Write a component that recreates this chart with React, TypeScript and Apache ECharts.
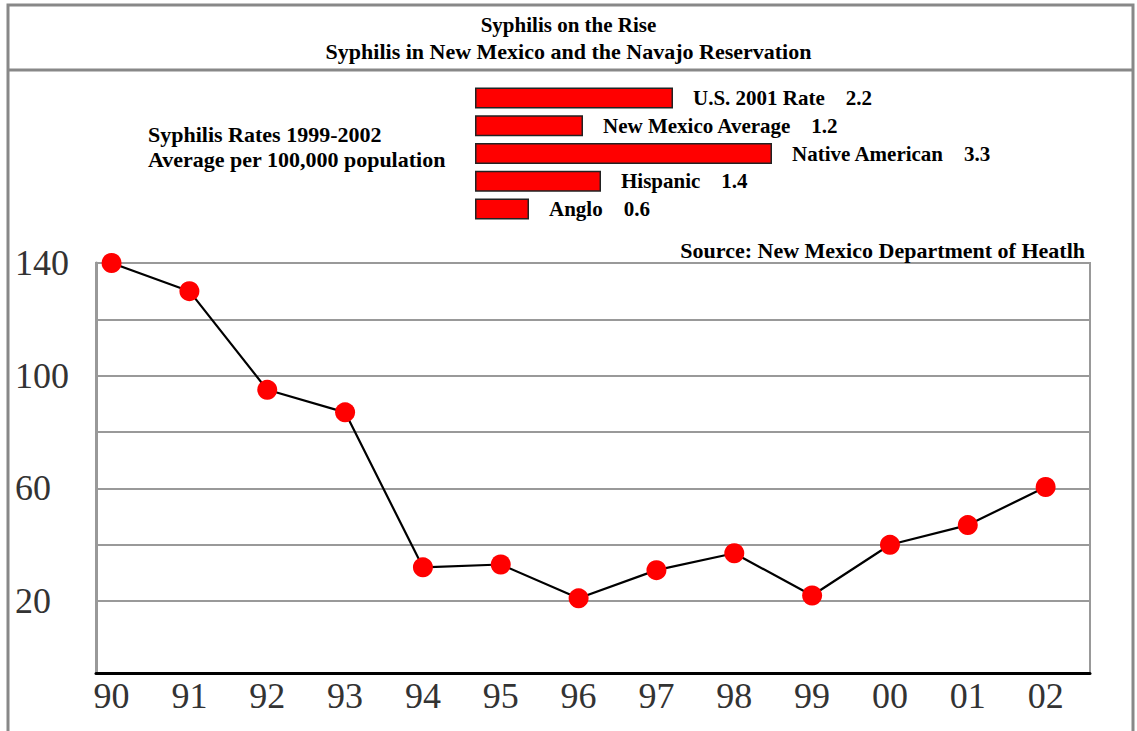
import React, { useEffect, useRef } from "react";
import * as echarts from "echarts";

// ---- data ----
const years = ["90", "91", "92", "93", "94", "95", "96", "97", "98", "99", "00", "01", "02"];
const cases = [140, 130, 95, 87, 32, 33, 21, 31, 37, 22, 40, 47, 60.5];
const yTickLabels = [20, 60, 100, 140];
const gridValues = [20, 40, 60, 80, 100, 120, 140];

const rateGroups = ["U.S. 2001 Rate", "New Mexico Average", "Native American", "Hispanic", "Anglo"];
const rateValues = [2.2, 1.2, 3.3, 1.4, 0.6];

const titleMain = "Syphilis on the Rise";
const titleSub = "Syphilis in New Mexico and the Navajo Reservation";
const ratesNote = "Syphilis Rates 1999-2002\nAverage per 100,000 population";
const sourceNote = "Source: New Mexico Department of Heatlh";

const SERIF = "'Liberation Serif', 'Times New Roman', serif";

export default function App() {
  const ref = useRef<HTMLDivElement>(null);
  useEffect(() => {
    if (!ref.current) return;
    const chart = echarts.init(ref.current, null, { renderer: "svg" });
    const boldText = { fontFamily: SERIF, fontWeight: "bold", color: "#000" };
    chart.setOption({
      animation: false,
      backgroundColor: "#fff",
      title: [
        { text: titleMain, left: "center", top: 9, textStyle: { ...boldText, fontSize: 21 } },
        { text: titleSub, left: "center", top: 35, textStyle: { ...boldText, fontSize: 22 } },
        { text: ratesNote, left: 143, top: 117, textStyle: { ...boldText, fontSize: 22, lineHeight: 25 } },
        { text: sourceNote, right: 47, top: 234, textStyle: { ...boldText, fontSize: 22 } },
      ],
      graphic: [
        { type: "rect", shape: { x: 8, y: 5, width: 1125, height: 740 }, style: { fill: "none", stroke: "#888", lineWidth: 3 }, silent: true },
        { type: "line", shape: { x1: 8, y1: 70, x2: 1133, y2: 70 }, style: { stroke: "#888", lineWidth: 3 }, silent: true },
      ],
      grid: [
        { left: 96, right: 47, top: 263, bottom: 58, show: true, borderColor: "#999", borderWidth: 2 },
        { left: 475, top: 84, width: 297, height: 139 },
      ],
      xAxis: [
        {
          type: "value",
          gridIndex: 0,
          min: -0.2,
          max: 12.57,
          axisLine: { show: true, onZero: false, lineStyle: { color: "#000", width: 3 } },
          axisTick: { show: false },
          splitLine: { show: false },
          axisLabel: {
            customValues: years.map((_, i) => i),
            formatter: (v: number) => years[Math.round(v)],
            fontFamily: SERIF,
            fontSize: 36,
            color: "#333",
            margin: 5,
          },
        },
        { type: "value", gridIndex: 1, min: 0, max: 3.3, show: false },
      ],
      yAxis: [
        {
          type: "value",
          gridIndex: 0,
          min: -5.5,
          max: 140,
          axisLine: { show: true, onZero: false, lineStyle: { color: "#999", width: 3 } },
          axisTick: { show: false },
          splitLine: { show: false },
          axisLabel: {
            customValues: yTickLabels,
            fontFamily: SERIF,
            fontSize: 36,
            color: "#333",
            align: "left",
            margin: 81,
          },
        },
        { type: "category", gridIndex: 1, data: rateGroups, inverse: true, show: false },
      ],
      series: [
        {
          type: "line",
          xAxisIndex: 0,
          yAxisIndex: 0,
          data: cases.map((v, i) => [i, v]),
          z: 3,
          symbol: "circle",
          symbolSize: 20,
          itemStyle: { color: "#ff0000" },
          lineStyle: { color: "#000", width: 2.2 },
          markLine: {
            silent: true,
            z: 1,
            symbol: "none",
            animation: false,
            label: { show: false },
            lineStyle: { color: "#999", type: "solid", width: 2 },
            data: gridValues.map((v) => ({ yAxis: v })),
          },
        },
        {
          type: "bar",
          xAxisIndex: 1,
          yAxisIndex: 1,
          data: rateValues,
          barWidth: 21,
          itemStyle: { color: "#ff0000", borderColor: "#222", borderWidth: 1.5 },
          label: {
            show: true,
            position: "right",
            distance: 20,
            formatter: "{b}    {c}",
            fontFamily: SERIF,
            fontWeight: "bold",
            fontSize: 21,
            color: "#000",
          },
        },
      ],
    });
    return () => chart.dispose();
  }, []);
  return (
    <div
      ref={ref}
      style={{ position: "fixed", left: 0, top: 0, width: 1137, height: 731, background: "#fff" }}
    />
  );
}
